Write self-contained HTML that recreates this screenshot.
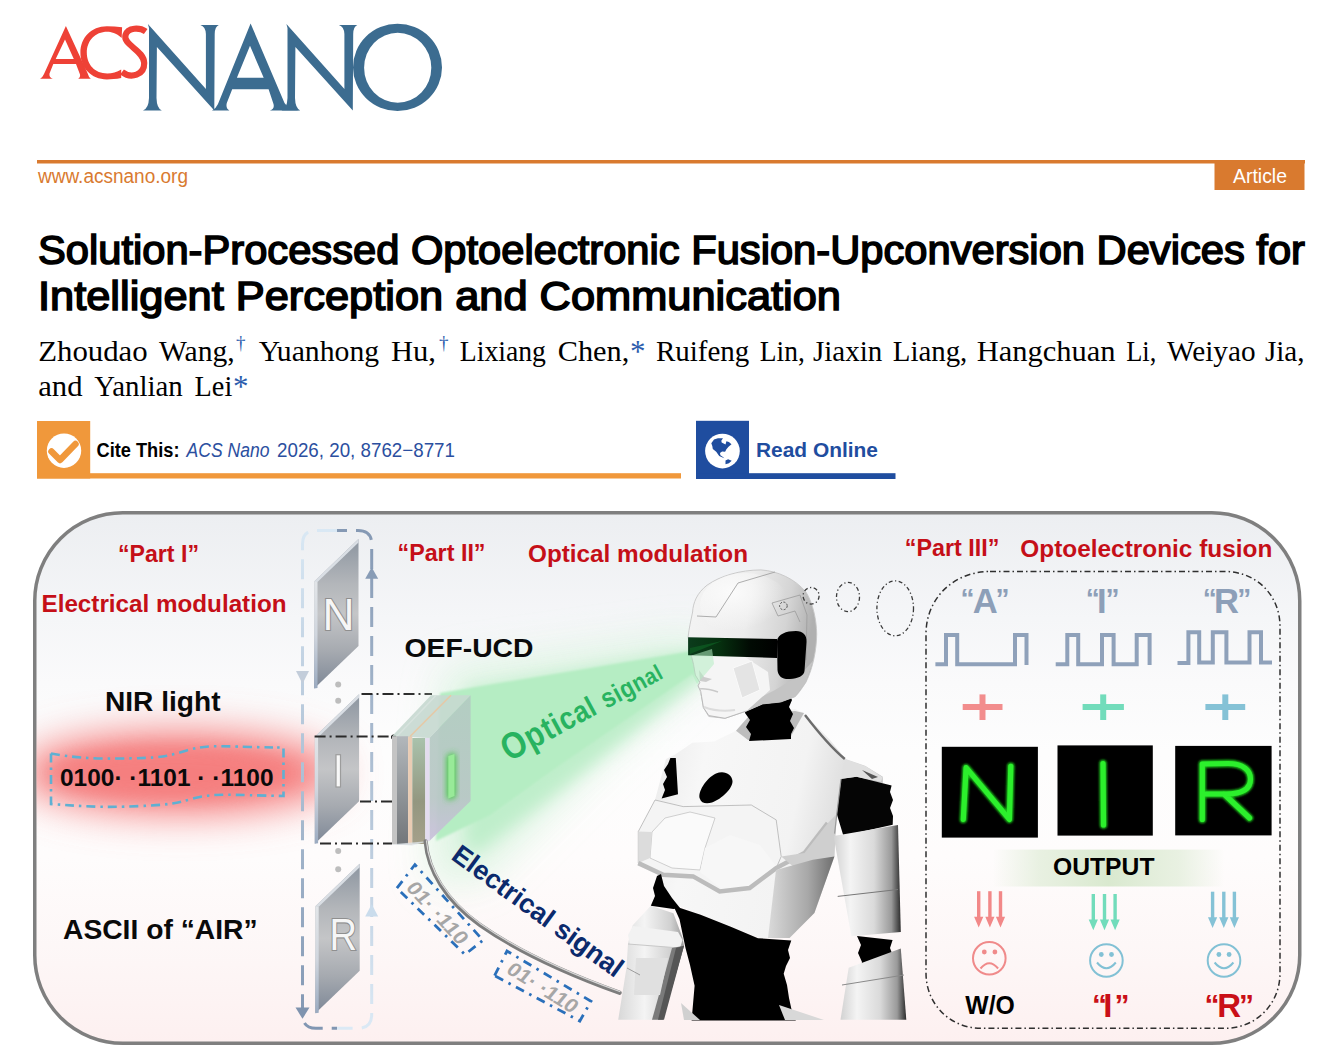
<!DOCTYPE html>
<html><head><meta charset="utf-8">
<style>
html,body{margin:0;padding:0;background:#fff;width:1324px;height:1057px;overflow:hidden}
svg{position:absolute;left:0;top:0;display:block}
text{font-family:"Liberation Sans",sans-serif}
.serif{font-family:"Liberation Serif",serif}
</style></head>
<body>
<svg width="1324" height="1057" viewBox="0 0 1324 1057">
<defs>
</defs>
<!-- ===== HEADER ===== -->
<g id="logo">
  <!-- ACS red -->
  <path fill="#ee4136" fill-rule="evenodd" d="M65.9,25.9 L87.5,73 Q88.8,77.5 90.8,78.7 L78.1,78.7 Q80.5,77.5 80,74.5 L76,64 L53.3,64 L49.5,73.5 Q48.8,77.5 52.8,78.7 L40.1,78.7 Q42.5,77.5 44,74 Z M65,39.5 L73.8,59 L55.7,59 Z"/>
  <path fill="#ee4136" d="M122.1,27.2 L121.7,38 C116,33 111,31.8 107.3,31.8 C95,31.8 86.8,41 86.8,52.6 C86.8,65 95,73.5 107.3,73.5 C112,73.5 117,72 121.2,69.4 L121.2,78 C116,79 111,79.4 106.9,79.4 C91,79.4 80.4,67.5 80.4,52.8 C80.4,38 91,26.3 106.9,26.3 C112,26.3 117,26.6 122.1,27.2 Z"/>
  <path fill="none" stroke="#ee4136" stroke-width="6.2" d="M145.7,31.5 C140,27.5 128,27 125.5,35 C122.5,45 144,50 144.2,63 C144.5,75 131,79 122,72"/>
  <!-- NANO blue -->
  <path id="N1" fill="#3c6c90" d="M147.9,24 L205.9,89 L205.9,34 Q205.5,26.5 200.4,25 L218.8,25 Q214.9,26.5 214.7,34 L214.3,110.6 L156.9,47 L156.5,98 Q156.8,108.5 161.8,110.4 L143,110.4 Q148.6,108.5 149,98 L149,28 Z"/>
  <use href="#N1" transform="translate(138.5,0)"/>
  <path fill="#3c6c90" fill-rule="evenodd" d="M250.6,23.4 L284.5,103 Q288,109 299.5,110.4 L269.9,110.4 Q274.8,109 273.5,104 L268.6,89.3 L232.2,89.3 L226.8,103 Q225.5,108.5 229.4,110.4 L212,110.4 Q216,108.5 218,104 Z M250,45.8 L263.7,77.8 L236.9,77.8 Z"/>
  <path fill="#3c6c90" fill-rule="evenodd" d="M353,67.4 A44.5,43.6 0 1 0 442,67.4 A44.5,43.6 0 1 0 353,67.4 Z M364.1,67.75 A33.6,35 0 1 0 431.3,67.75 A33.6,35 0 1 0 364.1,67.75 Z"/>
</g>
<rect x="37" y="160" width="1268" height="3.5" fill="#d97a2f"/>
<text x="38" y="183.3" font-size="20" fill="#d97a2f" textLength="150" lengthAdjust="spacingAndGlyphs">www.acsnano.org</text>
<rect x="1214.5" y="161" width="90" height="29" fill="#d97a2f"/>
<text x="1233" y="183.3" font-size="20" fill="#fff" textLength="54" lengthAdjust="spacingAndGlyphs">Article</text>

<!-- Title -->
<text x="38" y="263.8" font-size="41" font-weight="normal" fill="#000" stroke="#000" stroke-width="1.6" textLength="1267" lengthAdjust="spacingAndGlyphs">Solution-Processed Optoelectronic Fusion-Upconversion Devices for</text>
<text x="38" y="309.5" font-size="41" font-weight="normal" fill="#000" stroke="#000" stroke-width="1.6" textLength="803" lengthAdjust="spacingAndGlyphs">Intelligent Perception and Communication</text>

<!-- Authors -->
<g fill="#000">
  <text class="serif" x="38.2" y="360.6" font-size="30" textLength="109.5" lengthAdjust="spacingAndGlyphs">Zhoudao</text>
  <text class="serif" x="159.0" y="360.6" font-size="30" textLength="75.7" lengthAdjust="spacingAndGlyphs">Wang,</text>
  <text class="serif" x="258.7" y="360.6" font-size="30" textLength="120.4" lengthAdjust="spacingAndGlyphs">Yuanhong</text>
  <text class="serif" x="391.0" y="360.6" font-size="30" textLength="45.0" lengthAdjust="spacingAndGlyphs">Hu,</text>
  <text class="serif" x="459.8" y="360.6" font-size="30" textLength="86.1" lengthAdjust="spacingAndGlyphs">Lixiang</text>
  <text class="serif" x="557.7" y="360.6" font-size="30" textLength="71.6" lengthAdjust="spacingAndGlyphs">Chen,</text>
  <text class="serif" x="655.9" y="360.6" font-size="30" textLength="93.4" lengthAdjust="spacingAndGlyphs">Ruifeng</text>
  <text class="serif" x="759.8" y="360.6" font-size="30" textLength="45.0" lengthAdjust="spacingAndGlyphs">Lin,</text>
  <text class="serif" x="813.0" y="360.6" font-size="30" textLength="69.2" lengthAdjust="spacingAndGlyphs">Jiaxin</text>
  <text class="serif" x="892.8" y="360.6" font-size="30" textLength="74.5" lengthAdjust="spacingAndGlyphs">Liang,</text>
  <text class="serif" x="976.7" y="360.6" font-size="30" textLength="138.8" lengthAdjust="spacingAndGlyphs">Hangchuan</text>
  <text class="serif" x="1126.2" y="360.6" font-size="30" textLength="30.1" lengthAdjust="spacingAndGlyphs">Li,</text>
  <text class="serif" x="1167.0" y="360.6" font-size="30" textLength="88.5" lengthAdjust="spacingAndGlyphs">Weiyao</text>
  <text class="serif" x="1264.9" y="360.6" font-size="30" textLength="39.6" lengthAdjust="spacingAndGlyphs">Jia,</text>
  <text class="serif" x="38.2" y="395.6" font-size="30" textLength="44.3" lengthAdjust="spacingAndGlyphs">and</text>
  <text class="serif" x="94.3" y="395.6" font-size="30" textLength="88.5" lengthAdjust="spacingAndGlyphs">Yanlian</text>
  <text class="serif" x="194.6" y="395.6" font-size="30" textLength="37.7" lengthAdjust="spacingAndGlyphs">Lei</text>
  <text class="serif" x="236" y="349" font-size="19" fill="#2b5cad">†</text>
  <text class="serif" x="439" y="349" font-size="19" fill="#2b5cad">†</text>
  <text class="serif" x="630" y="361.5" font-size="31" fill="#2b5cad">*</text>
  <text class="serif" x="233" y="396.5" font-size="31" fill="#2b5cad">*</text>
</g>

<!-- Cite box -->
<rect x="37" y="421" width="53.2" height="57.5" fill="#f0983b"/>
<rect x="37" y="473.2" width="644" height="5.3" fill="#f0983b"/>
<circle cx="64" cy="450.7" r="17.2" fill="#fff"/>
<path d="M51.5,451.5 L60,460 L75.5,444" fill="none" stroke="#f0983b" stroke-width="6.5" stroke-linecap="round" stroke-linejoin="round"/>
<text x="96.5" y="456.5" font-size="20" font-weight="bold" fill="#000" textLength="83" lengthAdjust="spacingAndGlyphs">Cite This:</text>
<text x="186.5" y="456.5" font-size="20" font-style="italic" fill="#2b4fa0" textLength="83" lengthAdjust="spacingAndGlyphs">ACS Nano</text>
<text x="277" y="456.5" font-size="20" fill="#2b4fa0" textLength="178" lengthAdjust="spacingAndGlyphs">2026, 20, 8762−8771</text>

<!-- Read Online -->
<rect x="696" y="420.8" width="53" height="58.2" fill="#1f4d9f"/>
<rect x="696" y="473.2" width="199.5" height="5.8" fill="#1f4d9f"/>
<circle cx="722.45" cy="451.05" r="17.35" fill="#fff"/>
<path fill="#1f4d9f" d="M711.3,443.3 L714,439.5 L717.9,438.2 L723,438.2 L721.3,440.8 L721.7,442.5 L725.5,444.6 L726.4,441.2 L728.9,442 L731.5,444.2 L728.5,446.7 L726.4,449.3 L725.1,451.8 L722.1,451.4 L720,453.1 L720.4,455.2 L723,456.9 L724.3,458.2 L719.2,456.1 L716.2,451.8 L712.8,448.9 L712.3,445.9 Z M725.5,460.4 L728.1,459.3 L731.7,460.8 L728.9,463.3 L725.5,464.2 Z"/>
<text x="756" y="456.8" font-size="20" font-weight="bold" fill="#1f4d9f" textLength="122" lengthAdjust="spacingAndGlyphs">Read Online</text>

<!-- ===== GRAPHICAL ABSTRACT ===== -->
<g id="ga">
  <defs>
    <linearGradient id="bgGrad" x1="0" y1="0" x2="0" y2="1">
      <stop offset="0" stop-color="#eceef1"/>
      <stop offset="0.2" stop-color="#f5f6f8"/>
      <stop offset="0.32" stop-color="#fafafb"/>
      <stop offset="0.45" stop-color="#fdfdfd"/>
      <stop offset="0.65" stop-color="#fefcfc"/>
      <stop offset="0.85" stop-color="#fdf6f6"/>
      <stop offset="1" stop-color="#fdf0f0"/>
    </linearGradient>
    <filter id="blur20" x="-50%" y="-100%" width="200%" height="300%"><feGaussianBlur stdDeviation="20"/></filter>
    <filter id="blur8" x="-50%" y="-50%" width="200%" height="200%"><feGaussianBlur stdDeviation="8"/></filter>
    <filter id="blur3" x="-50%" y="-50%" width="200%" height="200%"><feGaussianBlur stdDeviation="3"/></filter>
    <filter id="blur1" x="-50%" y="-50%" width="200%" height="200%"><feGaussianBlur stdDeviation="1"/></filter>
    <clipPath id="frameClip"><rect x="36.5" y="514.5" width="1261.5" height="526" rx="86"/></clipPath>
  </defs>
  <rect x="34.75" y="512.75" width="1265" height="530.5" rx="88" fill="url(#bgGrad)" stroke="#7f7f7f" stroke-width="3.5"/>
  <g clip-path="url(#frameClip)">
    <!-- red NIR glow -->
    <ellipse cx="180" cy="773" rx="160" ry="40" fill="#f47676" filter="url(#blur20)"/>
    <ellipse cx="170" cy="773" rx="120" ry="26" fill="#f58080" filter="url(#blur8)" opacity="0.7"/>
  </g>
  <defs>
    <linearGradient id="slideGrad" x1="0" y1="0" x2="0" y2="1">
      <stop offset="0" stop-color="#8c95a0"/>
      <stop offset="0.3" stop-color="#b3b6ba"/>
      <stop offset="0.5" stop-color="#c4c5c7"/>
      <stop offset="0.75" stop-color="#a6aab0"/>
      <stop offset="1" stop-color="#7d8796"/>
    </linearGradient>
    <linearGradient id="edgeGrad" x1="0" y1="0" x2="0" y2="1">
      <stop offset="0" stop-color="#e2e5e8"/>
      <stop offset="0.5" stop-color="#d0d6de"/>
      <stop offset="1" stop-color="#9aaac0"/>
    </linearGradient>
    <linearGradient id="loopL" x1="0" y1="0" x2="0" y2="1">
      <stop offset="0" stop-color="#d9e8f4"/>
      <stop offset="1" stop-color="#8196b2"/>
    </linearGradient>
    <linearGradient id="loopR" x1="0" y1="0" x2="0" y2="1">
      <stop offset="0" stop-color="#8599b4"/>
      <stop offset="1" stop-color="#dbe9f5"/>
    </linearGradient>
  </defs>
  <!-- loop -->
  <g fill="none" stroke-width="3" stroke-dasharray="20,9">
    <path d="M337,530.5 L316,530.5 Q302.5,530.5 302.5,544 L302.5,1014.5 Q302.5,1028.3 316,1028.3 L337,1028.3" stroke="url(#loopL)"/>
    <path d="M337,530.5 L358,530.5 Q371.7,530.5 371.7,544 L371.7,1014.5 Q371.7,1028.3 358,1028.3 L337,1028.3" stroke="url(#loopR)" stroke-dashoffset="10"/>
  </g>
  <path d="M365.2,578.7 L371.7,567.3 L378.2,578.7 Z" fill="#889cb6"/>
  <path d="M365.2,916.6 L371.7,904.3 L378.2,916.6 Z" fill="#cadcec"/>
  <path d="M296,671 L302.5,683.7 L309,671 Z" fill="#c3cdda"/>
  <path d="M295.5,1007.5 L302.5,1018.8 L309.5,1007.5 Z" fill="#7f93ae"/>
  <!-- slides -->
  <g id="slideN">
    <path d="M314.2,581.5 L358.5,539 L358.5,646 L314.2,688.5 Z" fill="url(#slideGrad)"/>
    <path d="M314.2,581.5 L358.5,539 L358.5,542.5 L317.5,582 L314.2,582 Z" fill="#d9dee4"/>
    <path d="M314.2,581.5 L317.5,582 L317.5,688 L314.2,688.5 Z" fill="url(#edgeGrad)"/>
  </g>
  <use href="#slideN" transform="translate(0.6,155.2)"/>
  <use href="#slideN" transform="translate(1.2,324.7)"/>
  <g fill="#f6f6f6">
    <text x="322.5" y="629.5" font-size="45" textLength="32" lengthAdjust="spacingAndGlyphs" style="stroke:#8f8f8f;stroke-width:2.2;paint-order:stroke">N</text>
    <rect x="336" y="754.7" width="4.5" height="32.3" fill="#f8f8f8" stroke="#9c9c9c" stroke-width="1.2"/>
    <text x="329.5" y="949.5" font-size="45" textLength="27.5" lengthAdjust="spacingAndGlyphs" style="stroke:#8f8f8f;stroke-width:2.2;paint-order:stroke">R</text>
  </g>
  <g fill="#bdbdbd">
    <circle cx="338.2" cy="684.6" r="3"/><circle cx="338.2" cy="700.7" r="3"/>
    <circle cx="338.2" cy="851" r="3"/><circle cx="338.2" cy="869.3" r="3"/>
  </g>
  <!-- dash-dot connector lines -->
  <g fill="none" stroke="#2a2a2a" stroke-width="2" stroke-dasharray="11,4,2,4">
    <path d="M361.5,694 L432,694"/>
    <path d="M314.6,736.6 L393.7,736.6"/>
    <path d="M360,801.5 L392,801.5"/>
    <path d="M320,843.5 L392,843.5"/>
  </g>
  <circle cx="393.7" cy="737" r="2.6" fill="#000"/>
  <!-- green cone and halo -->
  <defs>
    <filter id="blur25" x="-50%" y="-50%" width="200%" height="200%"><feGaussianBlur stdDeviation="25"/></filter>
    <filter id="blur5" x="-50%" y="-50%" width="200%" height="200%"><feGaussianBlur stdDeviation="5"/></filter>
    <linearGradient id="devGray" x1="0" y1="0" x2="0" y2="1"><stop offset="0" stop-color="#b2b7bb"/><stop offset="1" stop-color="#72767a"/></linearGradient>
    <linearGradient id="devOlive" x1="0" y1="0" x2="0" y2="1"><stop offset="0" stop-color="#a9c2ac"/><stop offset="0.6" stop-color="#939780"/><stop offset="1" stop-color="#a5a08a"/></linearGradient>
    <linearGradient id="devFront" x1="0" y1="0" x2="0" y2="1"><stop offset="0" stop-color="#b3cbc2"/><stop offset="0.7" stop-color="#b9c6c6"/><stop offset="1" stop-color="#c9bfdb"/></linearGradient>
  </defs>
  <g clip-path="url(#frameClip)">
    <path d="M445,670 L700,635 L712,660 L600,760 L480,880 L430,880 Z" fill="#d8f3de" filter="url(#blur20)" opacity="0.9"/>
    <path d="M468,690 L712,648 L714,668 L560,790 L480,850 L466,850 Z" fill="#bfeecb" filter="url(#blur8)"/>
    <path d="M440,693 L690.7,651.3 L712,649 L712,664 L697.7,670.2 L560,765 L490,815 L436,841 Z" fill="#b5edc3" filter="url(#blur1)"/>
  </g>
  <g font-weight="bold" fill="#28b360">
<text font-size="37.0" transform="translate(509.0 762.0) rotate(-28.5) scale(0.86 1)">O</text>
<text font-size="34.8" transform="translate(531.5 749.8) rotate(-28.5) scale(0.86 1)">p</text>
<text font-size="33.2" transform="translate(548.4 740.6) rotate(-28.5) scale(0.86 1)">t</text>
<text font-size="32.3" transform="translate(557.4 735.7) rotate(-28.5) scale(0.86 1)">i</text>
<text font-size="31.6" transform="translate(564.9 731.6) rotate(-28.5) scale(0.86 1)">c</text>
<text font-size="30.3" transform="translate(578.9 724.1) rotate(-28.5) scale(0.86 1)">a</text>
<text font-size="29.0" transform="translate(592.2 716.8) rotate(-28.5) scale(0.86 1)">l</text>
<text font-size="27.6" transform="translate(606.4 709.1) rotate(-28.5) scale(0.86 1)">s</text>
<text font-size="26.4" transform="translate(618.6 702.5) rotate(-28.5) scale(0.86 1)">i</text>
<text font-size="25.9" transform="translate(624.7 699.2) rotate(-28.5) scale(0.86 1)">g</text>
<text font-size="24.6" transform="translate(637.2 692.4) rotate(-28.5) scale(0.86 1)">n</text>
<text font-size="23.5" transform="translate(649.1 685.9) rotate(-28.5) scale(0.86 1)">a</text>
<text font-size="22.5" transform="translate(659.5 680.3) rotate(-28.5) scale(0.86 1)">l</text>
  </g>
  <!-- device layers -->
  <g>
    <path d="M392,736.2 L431,695.3 L470.6,695.3 L429.4,738 Z" fill="#c6d8d0" opacity="0.9"/>
    <path d="M397,736.2 L436.2,695.3" stroke="#d7e3de" stroke-width="1.5"/>
    <path d="M410,736.5 L451,695.3" stroke="#e6c9a6" stroke-width="1.6"/>
    <rect x="392" y="736.2" width="5" height="108.1" fill="#c4c4c4"/>
    <rect x="397" y="736.2" width="11.1" height="108.1" fill="url(#devGray)"/>
    <rect x="408.1" y="736.5" width="4.2" height="108.5" fill="#e7c7ac" opacity="0.9"/>
    <rect x="412.3" y="738" width="13" height="106" fill="url(#devOlive)"/>
    <path d="M429.4,738 L470.6,695.3 L470.6,800.9 L429.4,841 Z" fill="url(#devFront)" opacity="0.92"/>
    <rect x="425.3" y="738" width="4.1" height="103" fill="#e3dcef"/>
    <path d="M392,844.3 L429.4,841 L412,845.5 Z" fill="#dde4e8" opacity="0.8"/>
    <path d="M447,755.5 L455.5,752.5 L455.5,797.5 L447,800 Z" fill="#3ec83e" filter="url(#blur3)"/>
    <path d="M448.3,756 L454.5,754 L454.5,796 L448.3,798.5 Z" fill="#98ea98"/>
  </g>

  <!-- ROBOT -->
  <defs>
    <linearGradient id="headGrad" x1="0" y1="0" x2="1" y2="0.2">
      <stop offset="0" stop-color="#f4f4f4"/>
      <stop offset="0.5" stop-color="#ececec"/>
      <stop offset="0.8" stop-color="#d4d4d4"/>
      <stop offset="1" stop-color="#b0b0b0"/>
    </linearGradient>
    <linearGradient id="visorGrad" x1="0" y1="0" x2="1" y2="0">
      <stop offset="0" stop-color="#0b3c1c"/>
      <stop offset="0.35" stop-color="#06300f"/>
      <stop offset="0.7" stop-color="#010a03"/>
      <stop offset="1" stop-color="#000"/>
    </linearGradient>
    <linearGradient id="chestGrad" x1="0" y1="0" x2="1" y2="0.2">
      <stop offset="0" stop-color="#e6e6e6"/>
      <stop offset="0.3" stop-color="#f7f7f7"/>
      <stop offset="0.7" stop-color="#f3f3f3"/>
      <stop offset="0.88" stop-color="#dedede"/>
      <stop offset="1" stop-color="#c4c4c4"/>
    </linearGradient>
    <linearGradient id="armGrad" x1="0" y1="0" x2="1" y2="0">
      <stop offset="0" stop-color="#d2d2d2"/>
      <stop offset="0.25" stop-color="#f4f4f4"/>
      <stop offset="0.6" stop-color="#dadada"/>
      <stop offset="0.86" stop-color="#9a9a9a"/>
      <stop offset="1" stop-color="#2c2c2c"/>
    </linearGradient>
    <linearGradient id="larmGrad" x1="0" y1="0" x2="1" y2="0">
      <stop offset="0" stop-color="#d8d8d8"/>
      <stop offset="0.4" stop-color="#f4f4f4"/>
      <stop offset="0.8" stop-color="#d0d0d0"/>
      <stop offset="1" stop-color="#9c9c9c"/>
    </linearGradient>
  </defs>
  <g id="robot">
    <!-- torso white -->
    <path d="M736,730.7 L751,713 L795,709 L804,713 L830,740 L845.6,759 L865,765.7 L882.8,776.7 L882.8,783 L841,779 L836.8,814 L834.6,833.6 L834.4,856.5 L814.4,913 L789.5,937.9 L759.6,937.9 L679.8,906.3 L658.2,904.7 L663.2,874.7 L638.3,863.1 L638.3,831.5 L655,800 L666,759 L674.8,754.8 L692.3,742.7 L714.2,741.6 Z" fill="url(#chestGrad)"/>
    <!-- collar opening gray -->
    <path d="M736,730.7 L749,716 L795,711 L804,713 L790,738 L748,740 Z" fill="#bdbdbd"/>
    <!-- neck -->
    <path d="M746,708 L789,694 L792,700 L789,707 L793,714 L790,721 L794,728 L791,734 L791,739 L749,741 L751,734 L746,727 L750,720 L745,713 Z" fill="#000"/>
    <!-- breastplate -->
    <path d="M655,800 L683.2,806.6 L751.3,805 L776.2,819.9 L781.2,856.5 L776.2,868.1 L749.6,888 L719.7,891.4 L693.1,876.4 L663.2,874.7 L638.3,863.1 L638.3,831.5 Z" fill="#f4f4f4" stroke="#a9a9a9" stroke-width="0.7"/>
    <path d="M665,818 L690,812 L715,818 L705,848 L700,870 L672,868 L650,858 L652,832 Z" fill="#fafafa" stroke="#c4c4c4" stroke-width="0.8"/>
    <path d="M705,848 L730,835 L760,845 L776,866 L750,886 L722,889 L700,872 Z" fill="#f7f7f7"/>
    <path d="M638.3,831.5 L652,832 L650,858 L638.3,863.1 Z" fill="#dcdcdc"/>
    <path d="M638.3,863.1 L663.2,874.7 L693.1,876.4 L719.7,891.4 L749.6,888 L776.2,868.1 L804.5,853.1 L827.7,823.2" fill="none" stroke="#bcbcbc" stroke-width="4.5"/>
    <path d="M781.2,856.5 L804.5,853.1 L827.7,823.2 L836.8,814 L834.4,856.5 L800,872 Z" fill="#cfcfcf"/>
    <defs><linearGradient id="abdR" x1="0" y1="0" x2="1" y2="0"><stop offset="0" stop-color="#dadada"/><stop offset="0.6" stop-color="#a8a8a8"/><stop offset="1" stop-color="#6e6e6e"/></linearGradient></defs>
    <path d="M776,870 L812.8,859.8 L834.4,856.5 L814.4,913 L789.5,937.9 L768,937.9 Z" fill="url(#abdR)"/>
    <!-- black chest hole -->
    <path d="M700,799 C697,793 706,778 716,773.5 C724,770 732,774 732.5,781 C733,788 722,799 712,802.5 C706,804 701,803 700,799 Z" fill="#000"/>
    <!-- left armpit black -->
    <path d="M670.4,758 L675.8,758 L678,794.2 L661.6,798.6 L665,790 L663,784 L667,777 L664,770 L668,764 Z" fill="#000"/>
    <!-- right shoulder joint black -->
    <path d="M841.2,778.8 L856.5,776.7 L891.6,785.4 L890,792 L893,800 L890,808 L893,816 L892.7,824.8 L843.4,835.8 L836.8,813.9 Z" fill="#050505"/>
    <path d="M844.8,759 L866,766.6 L882.6,777.2 L881,781.7 L856.5,776.7 L841,779 Z" fill="#e0e0e0"/>
    <path d="M862,770 L878,777 L872,779 Z" fill="#555"/>
    <path d="M805,715 C815,728 828,745 844.8,759" fill="none" stroke="#6c6c6c" stroke-width="2.4"/>
    <path d="M841,779 L836.8,814 L834.6,833.6" fill="none" stroke="#9a9a9a" stroke-width="1.2"/>
    <!-- right upper arm -->
    <path d="M833.6,836 L898,825 L900.8,932 L851.4,936.2 Z" fill="url(#armGrad)"/>
    <path d="M837.7,896.4 L898,889.5" stroke="#777" stroke-width="1"/>
    <!-- elbow black -->
    <path d="M857,936 L892.6,940 L890,948 L893,956 L892.6,965 L859.7,973 L862,962 L858,953 L861,945 Z" fill="#000"/>
    <!-- right forearm -->
    <path d="M848.7,967.7 L900.8,948.5 L906.3,1019.8 L840.5,1019.8 Z" fill="url(#armGrad)"/>
    <path d="M842,985 L904,975" stroke="#8a8a8a" stroke-width="1"/>
    <!-- waist black -->
    <path d="M673.4,905.7 L700.6,914.7 L730.8,926.8 L758,938.2 L791.3,940.4 L788,950 L790,958 L786,966 L783.7,973.7 L787,985 L789,998 L791.3,1008.4 L795.8,1020.5 L691.6,1020.5 L694.6,985.7 L690,965 L685.5,948 L679.5,919.3 Z" fill="#000"/>
    <path d="M779,1005 L824,1020 L785,1020 Z" fill="#d8d8d8"/>
    <path d="M681,1003 L700,1020 L684,1020 Z" fill="#d0d0d0"/>
    <!-- left arm -->
    <path d="M650.8,905.7 L673.4,913.2 L682.5,937.4 L684,945.8 L662.9,1019.8 L618.2,1019.8 L626.5,967.7 L628,943.4 L632.7,925.3 Z" fill="url(#larmGrad)"/>
    <path d="M628,935 L633,926 L678,932 L682.5,940 L680,948 L630,944 Z" fill="#f2f2f2"/>
    <path d="M628,944 L680,948" stroke="#c8c8c8" stroke-width="1.2"/>
    <path d="M672,948 L684,945.8 L662.9,1019.8 L652,1019.8 Z" fill="#7a7a7a"/>
    <path d="M676,948 L684,945.8 L664,1019.8 L658,1019.8 Z" fill="#555"/>
    <path d="M636,958 L668,958 L660,995 L634,995 Z" fill="#e0e0e0"/>
    <path d="M627,968 L640,975" stroke="#888" stroke-width="0.8"/>
    <path d="M657,876 L661,874 L664,886 L672,898 L680,908 L673.4,909 L650.8,905.7 L655,896 L653,888 Z" fill="#000"/>
    <!-- HEAD -->
    <path d="M760.9,569.9 C778,571 795,579 805.9,592 C813,603 816.5,620 816.7,634 C816.5,650 813,668 805.9,682.3 C801,690 797,695 795.1,696.7 L780.7,702 L762.7,703.9 L746.5,711 L725,718.3 L708.8,716.5 L703.4,707.5 L701.6,696.7 L698.9,685.9 L701.6,680.5 L696.2,675.1 L694.4,667.9 L691.7,657.1 L688.1,637.3 C689,628 691,620 692.6,612 C693,603 697,593 707,585.2 C720,576 740,570 760.9,569.9 Z" fill="url(#headGrad)" stroke="#c6c6c6" stroke-width="0.9"/>
    <defs><radialGradient id="helmHi" cx="0.35" cy="0.3" r="0.6"><stop offset="0" stop-color="#fbfbfb"/><stop offset="1" stop-color="#fbfbfb" stop-opacity="0"/></radialGradient></defs>
    <ellipse cx="745" cy="605" rx="45" ry="32" fill="url(#helmHi)"/>
    <path d="M746.5,711 L762.7,703.9 L780.7,702 L795.1,696.7 L805.9,682.3 L813.1,660.7 L800,675 L775,690 L755,700 Z" fill="#c4c4c4"/>
    <path d="M691.7,657.1 L745,657 L768,672 L770,690 L746.5,711 L725,718.3 L708.8,715.6 L703.4,707.5 L701.6,696.7 L698,685.9 L699.8,682.3 L695.3,675.1 L693.5,664.3 Z" fill="#f5f5f5"/>
    <path d="M691.7,657.1 L693.5,664.3 L695.3,675.1 L699.8,682.3 L698,685.9 L700.7,691.3 L701.6,696.7 L703.4,707.5 L708.8,715.6 L725,718.3 L746.5,711" fill="none" stroke="#b9b9b9" stroke-width="1"/>
    <path d="M699,670 L704,677 L712,679 L706,682 L700,681 Z" fill="#cdcdcd"/>
    <path d="M699,689 C705,688 712,690 718,692" fill="none" stroke="#c9c9c9" stroke-width="1.4"/>
    <path d="M704,707 C712,710 722,712 735,710" fill="none" stroke="#dcdcdc" stroke-width="2"/>
    <path d="M733,668 L752,661 L760,690 L742,698 Z" fill="#e4e4e4" stroke="#fafafa" stroke-width="1"/>
    <path d="M697,616 L716,617 L738,583 L775,572" fill="none" stroke="#9a9a9a" stroke-width="0.8"/>
    <path d="M772,603 L800,595 L807,615 L806,660 M772,603 L778,616 L795,611 L800,622" fill="none" stroke="#9a9a9a" stroke-width="0.8"/>
    <circle cx="783.4" cy="605.9" r="3.8" fill="none" stroke="#444" stroke-width="0.9" stroke-dasharray="2,1.5"/>
    <!-- visor -->
    <path d="M688.1,637.3 L777.1,639.1 L777.1,658 L688.1,655.3 Z" fill="url(#visorGrad)"/>
    <path d="M690,648 L722,641 L690,654 Z" fill="#0e5a22" opacity="0.8"/>
    <!-- ear piece -->
    <path d="M777,641 C778,634 786,631 796,631 C803,631 807,635 806.5,642 L804.5,671 C804,676 798,678.5 790,679 C782,679.5 778,676 777.5,670 Z" fill="#000"/>
  </g>
  <!-- green tint over face -->
  <path d="M690,656 L712,649 L714,664 L697,684 L690,670 Z" fill="#b5edc3" opacity="0.55"/>

  <!-- electrical signal -->
  <defs>
    <linearGradient id="cableGrad" x1="0" y1="0" x2="1" y2="1"><stop offset="0" stop-color="#8a8a8a"/><stop offset="1" stop-color="#a9a9a9"/></linearGradient>
  </defs>
  <path d="M425.6,841.4 C428,870 445,900 480,925 C520,953 570,975 619.6,992.8" fill="none" stroke="#7d7d7d" stroke-width="4.2" stroke-linecap="round"/>
  <path d="M425.6,841.4 C428,870 445,900 480,925 C520,953 570,975 619.6,992.8" fill="none" stroke="#d8d8d8" stroke-width="1.2" transform="translate(0.8,-1)"/>
  <text x="450" y="858.5" font-size="27" font-weight="bold" fill="#0b2a6c" transform="rotate(36 450 858.5)" textLength="204" lengthAdjust="spacingAndGlyphs">Electrical signal</text>
  <g fill="none" stroke="#2a6fba" stroke-width="2.8" stroke-dasharray="9,6,2.5,6">
    <path d="M396.9,888.2 L414.9,864.6 L483,940.3 L465,954.5 Z"/>
    <path d="M494.6,975.7 L507,951 L591,1001.3 L579.8,1021 Z"/>
  </g>
  <g fill="#a6a6a6" font-size="20" font-weight="bold">
    <text x="0" y="0" transform="translate(405 888) rotate(47) skewX(-8)" textLength="79" lengthAdjust="spacingAndGlyphs">01· ·110</text>
    <text x="0" y="0" transform="translate(505 972) rotate(32) skewX(-8)" textLength="79" lengthAdjust="spacingAndGlyphs">01· ·110</text>
  </g>
  <!-- thought bubbles -->
  <g fill="none" stroke="#3a3a3a" stroke-width="1.3" stroke-dasharray="4,2.5,1.2,2.5">
    <ellipse cx="811.1" cy="595.8" rx="8" ry="8.3"/>
    <ellipse cx="848" cy="597" rx="11.5" ry="14.6"/>
    <ellipse cx="895.2" cy="608.3" rx="18.3" ry="27.5"/>
  </g>
  <!-- Part II texts -->
  <g font-weight="bold">
    <text x="397.5" y="561.2" font-size="23" fill="#c50f18" textLength="88" lengthAdjust="spacingAndGlyphs">“Part II”</text>
    <text x="528" y="562.2" font-size="24" fill="#c50f18" textLength="220" lengthAdjust="spacingAndGlyphs">Optical modulation</text>
    <text x="404.5" y="657" font-size="26.5" fill="#0a0a0a" textLength="129" lengthAdjust="spacingAndGlyphs">OEF-UCD</text>
  </g>

  <!-- Part I texts -->
  <g font-weight="bold">
    <text x="118" y="561.5" font-size="23" fill="#c50f18" textLength="81" lengthAdjust="spacingAndGlyphs">“Part I”</text>
    <text x="41.5" y="612.2" font-size="24" fill="#c50f18" textLength="245" lengthAdjust="spacingAndGlyphs">Electrical modulation</text>
    <text x="105" y="710.7" font-size="27" fill="#0a0a0a" textLength="115.5" lengthAdjust="spacingAndGlyphs">NIR light</text>
    <text x="60" y="786" font-size="24.5" fill="#0a0a0a" textLength="213.5" lengthAdjust="spacingAndGlyphs">0100· ·1101 · ·1100</text>
    <text x="63" y="939" font-size="28" fill="#0a0a0a" textLength="194.5" lengthAdjust="spacingAndGlyphs">ASCII of “AIR”</text>
  </g>
  <!-- wavy dash-dot box -->
  <path d="M51,753.5 C70,757 90,759 120,758.5 C160,758 165,757 185,751 C205,745 215,746 250,747 L273,747.5 M51,753.5 L51,804 C80,806 100,808 140,806 C165,805 175,804 195,798 C215,793 230,795 283.5,796 L283.5,747.5 L273,747.5" fill="none" stroke="#5fb0d2" stroke-width="2.6" stroke-dasharray="9,5,2.5,5"/>

  <!-- PART III -->
  <g font-weight="bold" fill="#c50f18">
    <text x="904.8" y="556" font-size="23" textLength="94.5" lengthAdjust="spacingAndGlyphs">“Part III”</text>
    <text x="1020.3" y="556.5" font-size="24" textLength="252" lengthAdjust="spacingAndGlyphs">Optoelectronic fusion</text>
  </g>
  <path d="M990,571.5 L1225,571.5 C1256,571.5 1280,595 1280,626.5 L1280,973.3 C1280,1004 1256,1028.3 1225,1028.3 L981,1028.3 C950,1028.3 926,1004 926,973.3 L926,634 C926,598 954,571.5 990,571.5 Z" fill="none" stroke="#2f2f2f" stroke-width="1.5" stroke-dasharray="6,3,1.5,3"/>
  <g font-weight="bold" fill="#8d9fb8">
    <text x="960.6" y="608.1" font-size="28">“</text><text x="972.7" y="612.6" font-size="34.6">A</text><text x="995.6" y="608.1" font-size="28">”</text>
    <text x="1085.7" y="608.1" font-size="28">“</text><text x="1096.9" y="612.6" font-size="34.6">I</text><text x="1105.5" y="608.1" font-size="28">”</text>
    <text x="1202.7" y="608.1" font-size="28">“</text><text x="1213.9" y="612.6" font-size="34.6">R</text><text x="1237.3" y="608.1" font-size="28">”</text>
  </g>
  <g fill="none" stroke="#8fa1ba" stroke-width="4">
    <path d="M935.4,664.3 H946 V635 H957.2 V664.3 H1015 V635 H1026.5 V665"/>
    <path d="M1055.7,664.3 H1067.3 V635 H1078.2 V664.3 H1102 V635 H1113.6 V664.3 H1136.7 V635 H1149.6 V665"/>
    <path d="M1177.5,663 H1188.4 V632.3 H1199.2 V662.5 H1212.8 V632.3 H1226.4 V662.5 H1249.5 V632.3 H1261 V662.5 H1272"/>
  </g>
  <g>
    <rect x="962.7" y="704" width="39.8" height="6" fill="#f28d8d"/><rect x="979.5" y="694.4" width="6" height="25.6" fill="#f28d8d"/>
    <rect x="1082.6" y="704" width="41.3" height="6" fill="#72dcbb"/><rect x="1100.2" y="694.4" width="6" height="25.6" fill="#72dcbb"/>
    <rect x="1205.4" y="704" width="39.8" height="6" fill="#85c2d6"/><rect x="1222.3" y="694.4" width="6" height="25.6" fill="#85c2d6"/>
  </g>
  <!-- black squares -->
  <rect x="941.8" y="746.8" width="96.1" height="90.8" fill="#000"/>
  <rect x="1057.5" y="745.4" width="95.3" height="90.2" fill="#000"/>
  <rect x="1175.2" y="745.9" width="96.4" height="89.5" fill="#000"/>
  <g fill="none" stroke="#1fd41f" stroke-width="7.5" stroke-linecap="round" stroke-linejoin="round" filter="url(#blur1)" opacity="0.9">
    <path d="M963.3,819.4 L966.1,767.7 L1009.4,819.4 L1010.8,766.3"/>
    <path d="M1103,763.5 L1103.5,825"/>
    <path d="M1202.3,819.4 L1202.3,764 L1228,763.5 C1244,763.5 1250.5,771 1250.5,779 C1250.5,789 1243,794 1226,794 L1206,794 M1224,794 L1249.5,818"/>
  </g>
  <g fill="none" stroke="#2cf02c" stroke-width="5.2" stroke-linecap="round" stroke-linejoin="round">
    <path d="M963.3,819.4 L966.1,767.7 L1009.4,819.4 L1010.8,766.3"/>
    <path d="M1103,763.5 L1103.5,825"/>
    <path d="M1202.3,819.4 L1202.3,764 L1228,763.5 C1244,763.5 1250.5,771 1250.5,779 C1250.5,789 1243,794 1226,794 L1206,794 M1224,794 L1249.5,818"/>
  </g>
  <!-- OUTPUT band -->
  <defs>
    <linearGradient id="outGrad" x1="0" y1="0" x2="1" y2="0">
      <stop offset="0" stop-color="#e3eedb" stop-opacity="0"/>
      <stop offset="0.2" stop-color="#e3eedb" stop-opacity="0.8"/>
      <stop offset="0.5" stop-color="#d9e9cf"/>
      <stop offset="0.8" stop-color="#e3eedb" stop-opacity="0.8"/>
      <stop offset="1" stop-color="#e3eedb" stop-opacity="0"/>
    </linearGradient>
  </defs>
  <rect x="992.7" y="849.6" width="232" height="36.9" fill="url(#outGrad)"/>
  <text x="1053" y="875.3" font-size="24" font-weight="bold" fill="#000" textLength="101.5" lengthAdjust="spacingAndGlyphs">OUTPUT</text>
  <!-- arrows -->
  <defs>
    <g id="arrow3">
      <path d="M0,0 V29" stroke-width="3.4"/><path d="M11.2,0 V29" stroke-width="3.4"/><path d="M21.8,0 V29" stroke-width="3.4"/>
      <path d="M-4.6,25.5 L0,36.3 L4.6,25.5 Z M6.6,25.5 L11.2,36.3 L15.8,25.5 Z M17.2,25.5 L21.8,36.3 L26.4,25.5 Z" stroke="none"/>
    </g>
  </defs>
  <use href="#arrow3" transform="translate(978.7,891.2)" stroke="#f28888" fill="#f28888"/>
  <use href="#arrow3" transform="translate(1093.3,894)" stroke="#72dcbb" fill="#72dcbb"/>
  <use href="#arrow3" transform="translate(1212.6,891.7)" stroke="#85c2d6" fill="#85c2d6"/>
  <!-- faces -->
  <g fill="none" stroke-width="2">
    <circle cx="989.3" cy="958.3" r="16.3" stroke="#f08a8a"/>
    <path d="M980.5,968.5 Q989.3,958 998.1,968.5" stroke="#f08a8a"/>
    <circle cx="1106.4" cy="960.5" r="16.3" stroke="#82c1d5"/>
    <path d="M1097,962.5 Q1106.4,974 1115.8,962.5" stroke="#82c1d5"/>
    <circle cx="1224" cy="960.5" r="16.3" stroke="#82c1d5"/>
    <path d="M1214.6,962.5 Q1224,974 1233.4,962.5" stroke="#82c1d5"/>
  </g>
  <g>
    <circle cx="984.3" cy="952" r="2.4" fill="#f08a8a"/><circle cx="994.9" cy="952" r="2.4" fill="#f08a8a"/>
    <circle cx="1101.3" cy="954.5" r="2.4" fill="#82c1d5"/><circle cx="1111.5" cy="954.5" r="2.4" fill="#82c1d5"/>
    <circle cx="1218.9" cy="954.5" r="2.4" fill="#82c1d5"/><circle cx="1229.1" cy="954.5" r="2.4" fill="#82c1d5"/>
  </g>
  <g font-weight="bold">
    <text x="965.3" y="1013.8" font-size="25" fill="#000" textLength="49.5" lengthAdjust="spacingAndGlyphs">W/O</text>
    <g fill="#ca1018">
    <text x="1092.1" y="1014.6" font-size="30">“</text><text x="1103.2" y="1016.7" font-size="33">I</text><text x="1114.6" y="1014.6" font-size="30">”</text>
    <text x="1204.5" y="1014.6" font-size="30">“</text><text x="1217.3" y="1016.7" font-size="33">R</text><text x="1239" y="1014.6" font-size="30">”</text>
    </g>
  </g>
</g>
</svg>
</body></html>
